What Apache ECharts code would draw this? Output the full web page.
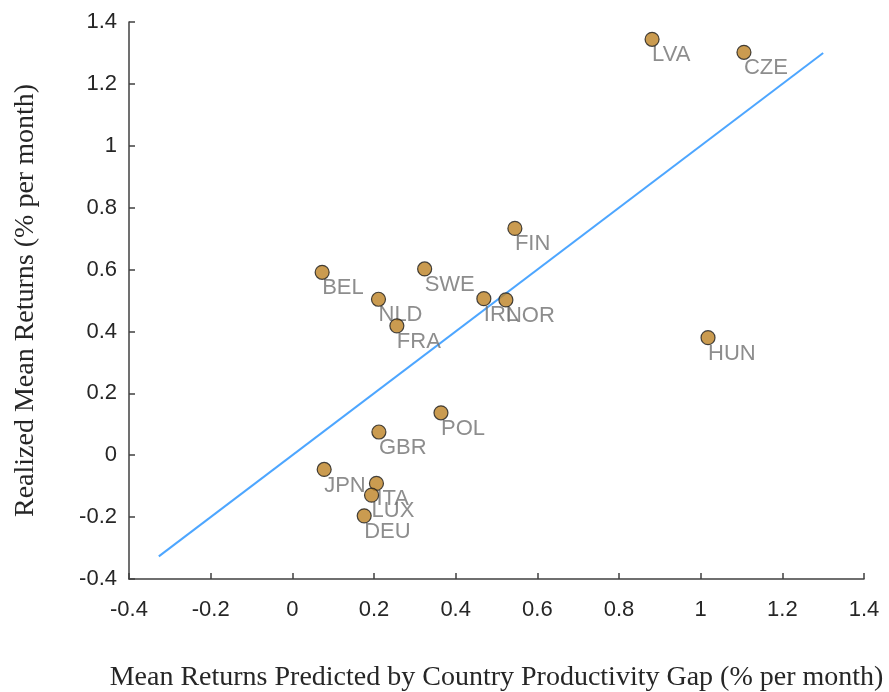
<!DOCTYPE html>
<html>
<head>
<meta charset="utf-8">
<script src="https://cdn.jsdelivr.net/npm/echarts@6/dist/echarts.min.js"></script>
<style>html,body{margin:0;padding:0;background:#fff}#c{width:889px;height:692px}</style>
</head>
<body>
<div id="c"></div>
<script>
var countries = ['LVA','CZE','HUN','FIN','BEL','SWE','NLD','FRA','IRL','NOR','POL','GBR','JPN','ITA','LUX','DEU'];
var predicted = [0.881,1.106,1.018,0.545,0.073,0.324,0.211,0.256,0.469,0.523,0.364,0.212,0.078,0.206,0.194,0.176];
var realized  = [1.344,1.302,0.380,0.733,0.591,0.602,0.504,0.418,0.506,0.502,0.137,0.075,-0.046,-0.091,-0.129,-0.196];
var fitX = [-0.327, 1.300];
var fitY = [-0.327, 1.300];
var xTicks = [-0.4,-0.2,0,0.2,0.4,0.6,0.8,1,1.2,1.4];
var yTicks = [-0.4,-0.2,0,0.2,0.4,0.6,0.8,1,1.2,1.4];

var pts = predicted.map(function(x,i){ return {value:[x, realized[i]], name:countries[i]}; });
var fit = fitX.map(function(x,i){ return [x, fitY[i]]; });

var chart = echarts.init(document.getElementById('c'), null, {renderer:'canvas'});
var axisCommon = {
  axisLine:{show:true, onZero:false, lineStyle:{color:'#404040', width:1.5}},
  axisTick:{show:true, inside:true, length:6, lineStyle:{color:'#404040', width:1.5}},
  splitLine:{show:false},
  axisLabel:{color:'#262626', fontSize:22, fontFamily:'Liberation Sans, Arial, sans-serif',
    formatter:function(v){ return String(Math.round(v*10)/10); }},
  nameLocation:'middle',
  nameTextStyle:{color:'#262626', fontSize:28, fontFamily:'Liberation Serif, Times New Roman, serif'}
};
chart.setOption({
  animation:false,
  backgroundColor:'#fff',
  grid:{left:129, right:25, top:22, bottom:113, containLabel:false, outerBoundsMode:'none'},
  xAxis:Object.assign({}, axisCommon, {
    type:'value', min:-0.4, max:1.4, interval:0.2,
    name:'Mean Returns Predicted by Country Productivity Gap (% per month)', nameGap:85,
    axisLabel:Object.assign({}, axisCommon.axisLabel, {margin:20})
  }),
  yAxis:Object.assign({}, axisCommon, {
    type:'value', min:-0.4, max:1.4, interval:0.2,
    name:'Realized Mean Returns (% per month)', nameGap:89,
    axisLabel:Object.assign({}, axisCommon.axisLabel, {margin:12})
  }),
  series:[
    {type:'line', data:fit, symbol:'none', z:1,
     lineStyle:{color:'#4da6ff', width:2}},
    {type:'scatter', data:pts, symbolSize:0, z:2, silent:true,
     label:{show:true, position:[0,16], align:'left', verticalAlign:'middle',
       formatter:function(p){return p.name;}, color:'#707070', fontSize:22,
       fontFamily:'Liberation Sans, Arial, sans-serif'}},
    {type:'scatter', data:pts, symbol:'circle', symbolSize:14, z:3,
     itemStyle:{color:'#bd8224', borderColor:'#1a1a1a', borderWidth:1.2}}
  ]
});
</script>
</body>
</html>
